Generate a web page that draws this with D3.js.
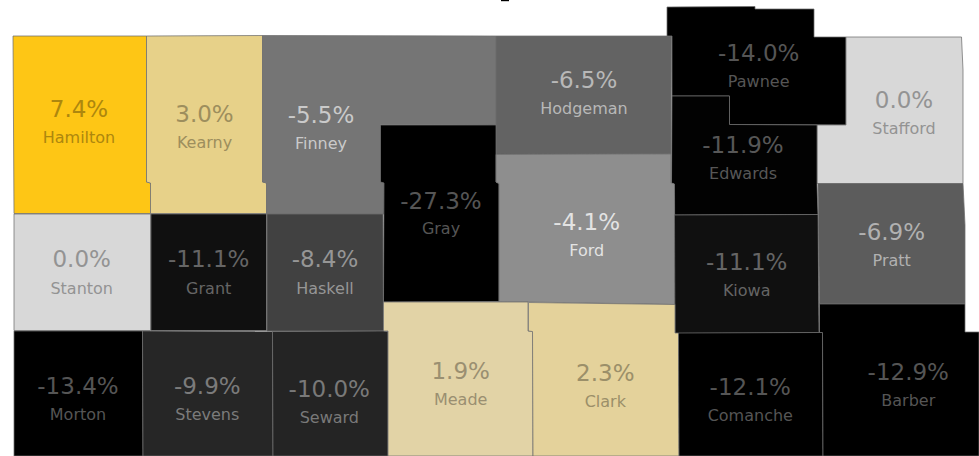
<!DOCTYPE html>
<html>
<head>
<meta charset="utf-8">
<script src="https://cdn.jsdelivr.net/npm/d3@7"></script>
<style>
html, body { margin: 0; padding: 0; background: #fff; overflow: hidden; }
</style>
</head>
<body>
<script>
//county names and percent change
var counties = ['Hamilton', 'Kearny', 'Finney', 'Hodgeman', 'Pawnee', 'Stafford', 'Edwards', 'Gray', 'Ford',
    'Pratt', 'Stanton', 'Grant', 'Haskell', 'Kiowa', 'Morton', 'Stevens', 'Seward', 'Meade', 'Clark', 'Comanche', 'Barber'];
var changes = [7.4, 3.0, -5.5, -6.5, -14.0, 0.0, -11.9, -27.3, -4.1,
    -6.9, 0.0, -11.1, -8.4, -11.1, -13.4, -9.9, -10.0, 1.9, 2.3, -12.1, -12.9];

//county outlines in map units
var outlines = [
    [[13,36],[146.5,36],[146.5,182],[150.5,183],[150.5,213.5],[14,213.5]],
    [[146.5,36],[262.5,35.5],[262.5,182],[266.5,183],[266.5,213.5],[150.5,213.5],[150.5,183],[146.5,182]],
    [[262.5,35.5],[496,36],[496,125],[380.5,124.5],[380.5,182],[384,183],[384,214],[266.5,214],[266.5,183],[262.5,182]],
    [[496,36],[671.5,36],[671,154],[496,154.5]],
    [[667,7],[755,6.5],[755,9],[814,9],[814,37],[846,37],[846,125],[729.5,124.5],[729.5,96],[672,96],[672,36],[667,36]],
    [[846,37],[961.5,37],[963,70],[963,183.5],[817,183.5],[817,125],[846,125]],
    [[672,96],[729.5,96],[729.5,124.5],[817,125],[817,183.5],[818,214.5],[674.5,215],[674,184],[671.5,183]],
    [[380.5,125],[496,125],[496,182],[499,183.5],[499,301.5],[383.5,302],[384,183],[380.5,182]],
    [[496,154.5],[671,154],[671,183],[674.5,184],[675,304.5],[528.5,302],[499,301.5],[499,183.5],[496,182]],
    [[818,183.5],[963,183.5],[965,225],[965,304],[819.5,304]],
    [[14,214],[150.5,214],[150.5,330.5],[14,330.5]],
    [[151,214],[266.5,214],[266.5,330.5],[151,330.5]],
    [[267,214],[383,214],[383.5,331],[267,331]],
    [[674.5,215],[818,214.5],[819,332.5],[675,333.5]],
    [[14,331],[142.5,331],[143,456],[14,456]],
    [[142.5,331],[272.5,331.5],[273,456],[143,456]],
    [[272.5,331.5],[383.5,331],[388,331.5],[388,456],[273,456]],
    [[383.5,302],[528,302],[528,331],[532.5,331.5],[533,456],[388,456],[388,331],[383.5,331]],
    [[528.5,302.5],[675,304.5],[675,333],[678.5,333],[679,456],[533,456],[532.5,331.5],[528.5,331]],
    [[678.5,333],[822.5,332.5],[823,456],[679,456]],
    [[819.5,304],[965,304],[965,332],[979,332],[979,456],[823,456],[822.5,332.5],[819.5,332.5]]
];

//where each label sits: centre x, value baseline, name baseline
var labelX = [79, 204.5, 321, 584, 758.7, 904, 743, 441, 586.7, 891.7, 81.7, 208.7, 325, 746.7, 78, 207.3, 329.3, 460.7, 605.3, 750.3, 908.3];
var valueY = [117.3, 122, 122.7, 87.7, 61, 107.7, 153.3, 209.3, 230, 240, 267.3, 267.3, 267.3, 270, 394, 394, 396.7, 379, 381.3, 395.3, 379.7];
var nameY = [143, 148, 148.7, 114, 87, 134, 179, 234, 256, 266, 294, 294, 294, 296, 420, 420, 423, 404.7, 407, 421, 405.7];

//stray mark at the top edge of the picture
var stray = [[[501,0],[509,0],[509,1.2],[501,1.2]]];

window.onload = setMap();

function setMap(){

    var width = 979,
        height = 456;

    var map = d3.select('body')
        .append('svg')
        .attr('class', 'map')
        .attr('width', width)
        .attr('height', height)
        .style('display', 'block');

    //outlines are already in page units
    var path = d3.geoPath().projection(d3.geoIdentity());

    var color = d3.scaleLinear()
        .domain([-12, 0, 7.4])
        .range(['#000000', '#d8d8d8', '#fec615'])
        .clamp(true);

    //labels are a tint of the fill, lighter on gray and darker on gold
    function labelColor(v){
        var c = d3.rgb(color(v));
        if (v < 0) return d3.rgb(Math.min(c.r + 85, 232), Math.min(c.g + 85, 232), Math.min(c.b + 85, 232)).formatHex();
        return d3.rgb(c.r * 0.68, c.g * 0.68, c.b * 0.68).formatHex();
    }

    var features = counties.map(function(name, i){
        var ring = outlines[i].concat([outlines[i][0]]);
        return {
            type: 'Feature',
            properties: { name: name, change: changes[i] },
            geometry: { type: 'Polygon', coordinates: [ring] }
        };
    });

    map.selectAll('.county')
        .data(features)
        .enter()
        .append('path')
        .attr('class', 'county')
        .attr('d', path)
        .attr('fill', function(d){ return color(d.properties.change); })
        .attr('stroke', '#6f6f6f')
        .attr('stroke-opacity', 0.75)
        .attr('stroke-width', 1);

    map.append('path')
        .datum({ type: 'Polygon', coordinates: [stray[0].concat([stray[0][0]])] })
        .attr('d', path)
        .attr('fill', '#000');

    var labels = map.selectAll('.label')
        .data(features)
        .enter()
        .append('g')
        .attr('class', 'label')
        .attr('text-anchor', 'middle')
        .attr('font-family', '"DejaVu Sans", sans-serif')
        .attr('fill', function(d){ return labelColor(d.properties.change); });

    labels.append('text')
        .attr('x', function(d, i){ return labelX[i]; })
        .attr('y', function(d, i){ return valueY[i]; })
        .attr('font-size', 23)
        .text(function(d){ return d.properties.change.toFixed(1) + '%'; });

    labels.append('text')
        .attr('x', function(d, i){ return labelX[i]; })
        .attr('y', function(d, i){ return nameY[i]; })
        .attr('font-size', 16)
        .text(function(d){ return d.properties.name; });
}
</script>
</body>
</html>
